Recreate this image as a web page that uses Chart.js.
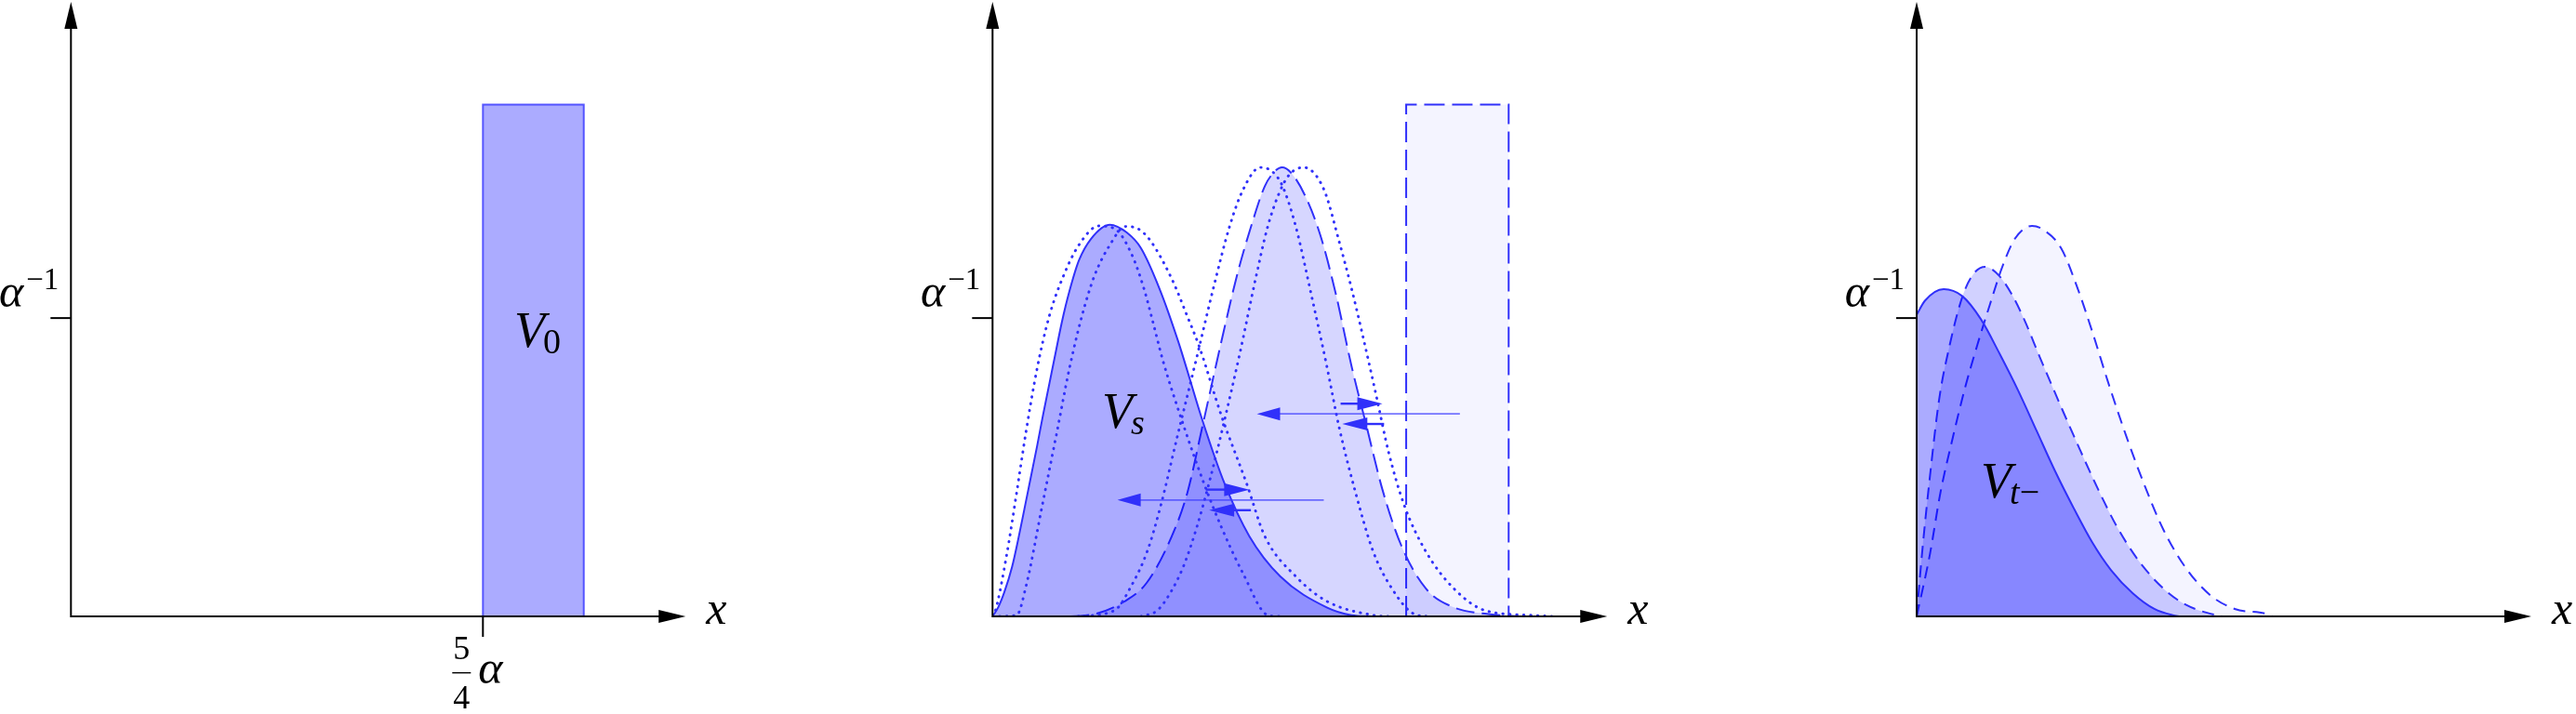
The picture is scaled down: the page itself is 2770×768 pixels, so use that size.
<!DOCTYPE html>
<html>
<head>
  <meta charset="utf-8">
  <title>V0, Vs, Vt-</title>
  <script src="https://cdn.jsdelivr.net/npm/chart.js"></script>
  <style>
    body { margin: 0; background: #fff; }
    #wrap { position: relative; width: 2770px; height: 768px; }
    #wrap canvas { position: absolute; left: 0; top: 0; }
  </style>
</head>
<body>
<div id="wrap">
  <canvas id="left" width="2770" height="768"></canvas>
  <canvas id="middle" width="2770" height="768"></canvas>
  <canvas id="right" width="2770" height="768"></canvas>
</div>
<script>
// x in units of alpha, y in units of 1/alpha
const X_MAX = 1.865;
const Y_MAX = 2.06;
const yTicks = [1];        // alpha^-1
const xTicks = [1.25];     // 5/4 alpha (left panel)

// left panel
const v0Block = [[1.25, 0], [1.25, 1.716], [1.556, 1.716], [1.556, 0]];

// middle panel
const vsCurve = [[0, 0], [0.017, 0.030], [0.036, 0.082], [0.059, 0.165], [0.078, 0.259], [0.097, 0.362],
  [0.116, 0.466], [0.135, 0.570], [0.153, 0.674], [0.172, 0.778], [0.191, 0.882], [0.210, 0.985],
  [0.233, 1.089], [0.262, 1.193], [0.299, 1.266], [0.356, 1.313], [0.407, 1.287], [0.450, 1.235],
  [0.506, 1.100], [0.563, 0.923], [0.638, 0.653], [0.704, 0.445], [0.779, 0.269], [0.873, 0.134],
  [1.014, 0.030], [1.089, 0.004], [1.15, 0]];
const vsDotLeft = [[0, 0], [0.006, 0.009], [0.043, 0.207], [0.073, 0.414], [0.102, 0.622], [0.135, 0.830],
  [0.172, 1.006], [0.215, 1.141], [0.262, 1.245], [0.323, 1.309], [0.374, 1.297], [0.422, 1.214],
  [0.459, 1.100], [0.487, 0.985], [0.516, 0.861], [0.582, 0.632], [0.638, 0.456], [0.694, 0.300],
  [0.760, 0.144], [0.835, 0.004], [0.87, 0]];
const vsDotRight = [[0, 0], [0.073, 0.004], [0.102, 0.103], [0.149, 0.362], [0.196, 0.622], [0.233, 0.830],
  [0.271, 1.006], [0.309, 1.141], [0.356, 1.245], [0.403, 1.307], [0.440, 1.300], [0.478, 1.261],
  [0.544, 1.131], [0.591, 1.006], [0.628, 0.902], [0.694, 0.674], [0.771, 0.445], [0.826, 0.269],
  [0.920, 0.134], [1.014, 0.051], [1.155, 0.004], [1.2, 0]];
const midDashed = [[0, 0], [0.20, 0], [0.30, 0.006], [0.40, 0.05], [0.468, 0.113], [0.544, 0.269],
  [0.591, 0.414], [0.638, 0.643], [0.694, 0.920], [0.741, 1.140], [0.788, 1.320], [0.826, 1.442],
  [0.854, 1.489], [0.878, 1.505], [0.905, 1.488], [0.948, 1.411], [0.995, 1.276], [1.042, 1.079],
  [1.089, 0.840], [1.136, 0.632], [1.183, 0.425], [1.240, 0.238], [1.315, 0.093], [1.400, 0.030],
  [1.494, 0.009], [1.60, 0]];
const midDotLeft = [[0.26, 0], [0.37, 0.02], [0.42, 0.10], [0.47, 0.22], [0.51, 0.37], [0.56, 0.60],
  [0.62, 0.87], [0.67, 1.10], [0.72, 1.31], [0.76, 1.43], [0.812, 1.505], [0.85, 1.49], [0.880, 1.442],
  [0.920, 1.307], [0.967, 1.079], [1.014, 0.840], [1.052, 0.632], [1.099, 0.425], [1.155, 0.217],
  [1.212, 0.093], [1.277, 0.009], [1.32, 0]];
const midDotRight = [[0.45, 0], [0.50, 0.02], [0.54, 0.08], [0.58, 0.17], [0.62, 0.30], [0.66, 0.46],
  [0.70, 0.64], [0.75, 0.88], [0.798, 1.131], [0.835, 1.307], [0.87, 1.42], [0.90, 1.48], [0.944, 1.505],
  [1.005, 1.432], [1.052, 1.255], [1.089, 1.100], [1.127, 0.923], [1.165, 0.736], [1.202, 0.549],
  [1.249, 0.373], [1.315, 0.217], [1.400, 0.093], [1.494, 0.020], [1.635, 0.004], [1.70, 0]];
const midBlock = [[1.255, 0], [1.255, 1.716], [1.566, 1.716], [1.566, 0]];
// arrows: [from x, to x, y]
const longArrows = [[1.418, 0.802, 0.679], [1.005, 0.379, 0.390]];
const shortArrows = [[1.056, 1.183, 0.713], [1.188, 1.061, 0.645], [0.647, 0.779, 0.425], [0.784, 0.657, 0.356]];

// right panel
const tCurve = [[0, 1.011], [0.025, 1.058], [0.082, 1.097], [0.138, 1.074], [0.195, 0.996], [0.251, 0.882],
  [0.308, 0.757], [0.364, 0.622], [0.420, 0.487], [0.477, 0.362], [0.533, 0.248], [0.590, 0.155],
  [0.656, 0.077], [0.721, 0.025], [0.777, 0.004], [0.80, 0]];
const tDashedA = [[0, 0], [0.016, 0.207], [0.040, 0.466], [0.068, 0.726], [0.101, 0.913], [0.138, 1.069],
  [0.171, 1.146], [0.208, 1.172], [0.251, 1.141], [0.289, 1.079], [0.326, 0.996], [0.373, 0.871],
  [0.429, 0.726], [0.495, 0.560], [0.551, 0.425], [0.608, 0.300], [0.674, 0.186], [0.749, 0.093],
  [0.815, 0.040], [0.909, 0.004], [0.93, 0]];
const tDashedB = [[0, 0], [0.040, 0.207], [0.072, 0.414], [0.110, 0.601], [0.147, 0.767], [0.185, 0.913],
  [0.223, 1.048], [0.260, 1.172], [0.298, 1.266], [0.350, 1.309], [0.383, 1.297], [0.438, 1.235],
  [0.485, 1.110], [0.533, 0.954], [0.580, 0.788], [0.637, 0.601], [0.693, 0.435], [0.749, 0.290],
  [0.815, 0.165], [0.890, 0.072], [0.965, 0.025], [1.059, 0.009], [1.08, 0]];

const LINE = 'rgb(48,48,250)';
const SERIF = '"Liberation Serif", serif';
const PX_X = 354.4;

function curve(points, extra) {
  return Object.assign({
    data: points.map(p => ({ x: p[0], y: p[1] })),
    borderColor: LINE,
    borderWidth: 2,
    pointRadius: 0,
    cubicInterpolationMode: 'monotone',
    fill: false
  }, extra);
}
function dotted(points, order) {
  return curve(points, { borderDash: [0.5, 7], borderCapStyle: 'round', borderWidth: 2.9, order: order });
}
function block(points, extra) {
  return curve(points, Object.assign({ tension: 0, cubicInterpolationMode: 'default', fill: 'origin' }, extra));
}

function drawParts(ctx, parts, x, y) {
  let cx = x;
  parts.forEach(p => {
    ctx.font = p.font;
    ctx.fillText(p.text, cx + (p.gap || 0), y + (p.dy || 0));
    cx += ctx.measureText(p.text).width + (p.gap || 0);
  });
  return cx;
}
function partsWidth(ctx, parts) {
  let w = 0;
  parts.forEach(p => { ctx.font = p.font; w += ctx.measureText(p.text).width + (p.gap || 0); });
  return w;
}
function head(ctx, tipX, tipY, dir, len, half, color) {
  ctx.fillStyle = color;
  ctx.beginPath();
  if (dir === 'up') {
    ctx.moveTo(tipX, tipY); ctx.lineTo(tipX - half, tipY + len); ctx.lineTo(tipX + half, tipY + len);
  } else {
    const s = dir === 'right' ? -1 : 1;
    ctx.moveTo(tipX, tipY); ctx.lineTo(tipX + s * len, tipY - half); ctx.lineTo(tipX + s * len, tipY + half);
  }
  ctx.closePath();
  ctx.fill();
}

const axesPlugin = {
  id: 'axes',
  afterDatasetsDraw(chart, args, opts) {
    const ctx = chart.ctx;
    const xs = chart.scales.x, ys = chart.scales.y;
    const x0 = xs.getPixelForValue(0), y0 = ys.getPixelForValue(0);
    const xEnd = xs.getPixelForValue(X_MAX), yEnd = ys.getPixelForValue(Y_MAX);
    ctx.save();
    ctx.textBaseline = 'alphabetic';

    // arrows inside the plot
    (opts.longArrows || []).forEach(a => {
      const p1 = xs.getPixelForValue(a[0]), p2 = xs.getPixelForValue(a[1]), py = ys.getPixelForValue(a[2]);
      const d = p2 > p1 ? 1 : -1;
      ctx.strokeStyle = 'rgba(60,60,255,0.7)'; ctx.lineWidth = 1.6;
      ctx.beginPath(); ctx.moveTo(p1, py); ctx.lineTo(p2 - d * 20, py); ctx.stroke();
      head(ctx, p2, py, d > 0 ? 'right' : 'left', 25, 7, LINE);
    });
    (opts.shortArrows || []).forEach(a => {
      const p1 = xs.getPixelForValue(a[0]), p2 = xs.getPixelForValue(a[1]), py = ys.getPixelForValue(a[2]);
      const d = p2 > p1 ? 1 : -1;
      ctx.strokeStyle = LINE; ctx.lineWidth = 2.4;
      ctx.beginPath(); ctx.moveTo(p1, py); ctx.lineTo(p2 - d * 20, py); ctx.stroke();
      head(ctx, p2, py, d > 0 ? 'right' : 'left', 27, 7, LINE);
    });

    // axes
    ctx.strokeStyle = '#000'; ctx.lineWidth = 2;
    ctx.beginPath();
    ctx.moveTo(x0 - 1, y0); ctx.lineTo(xEnd - 20, y0);
    ctx.moveTo(x0, y0 + 1); ctx.lineTo(x0, yEnd + 20);
    ctx.stroke();
    head(ctx, xEnd, y0, 'right', 29, 7, '#000');
    head(ctx, x0, yEnd, 'up', 29, 7, '#000');

    // y ticks: alpha^-1
    ctx.fillStyle = '#000';
    yTicks.forEach(v => {
      const py = ys.getPixelForValue(v);
      ctx.beginPath(); ctx.moveTo(x0 - 22, py); ctx.lineTo(x0, py); ctx.stroke();
      const parts = [{ text: 'α', font: 'italic 50px ' + SERIF },
                     { text: '−1', font: '33px ' + SERIF, dy: -19, gap: 3 }];
      drawParts(ctx, parts, x0 - 13 - partsWidth(ctx, parts), py - 12);
    });
    // x ticks: 5/4 alpha
    (opts.xTicks || []).forEach(v => {
      const px = xs.getPixelForValue(v);
      ctx.beginPath(); ctx.moveTo(px, y0); ctx.lineTo(px, y0 + 22); ctx.stroke();
      const fx = px - 23;
      ctx.font = '36px ' + SERIF; ctx.textAlign = 'center';
      ctx.fillText('5', fx, y0 + 46);
      ctx.fillText('4', fx, y0 + 99);
      ctx.textAlign = 'left';
      ctx.fillRect(fx - 10, y0 + 60, 20, 1.4);
      ctx.font = 'italic 50px ' + SERIF;
      ctx.fillText('α', px - 5, y0 + 72);
    });
    // axis name
    ctx.font = 'italic 50px ' + SERIF;
    ctx.fillText('x', xEnd + 22, y0 + 8);

    // region labels
    (opts.labels || []).forEach(l => {
      drawParts(ctx, l.parts, xs.getPixelForValue(l.x), ys.getPixelForValue(l.y));
    });
    ctx.restore();
  }
};

function makePanel(id, left, datasets, opts) {
  return new Chart(document.getElementById(id), {
    type: 'line',
    data: { datasets: datasets },
    options: {
      responsive: false,
      devicePixelRatio: 1,
      animation: false,
      events: [],
      layout: { padding: { left: left, right: 2770 - left - X_MAX * PX_X, top: 2, bottom: 105 } },
      scales: {
        x: { type: 'linear', min: 0, max: X_MAX, display: false },
        y: { type: 'linear', min: 0, max: Y_MAX, display: false }
      },
      plugins: { legend: { display: false }, tooltip: { enabled: false }, axes: opts }
    },
    plugins: [axesPlugin]
  });
}

const V = 'italic 54px ' + SERIF;
const SUB = '38px ' + SERIF;
const SUBI = 'italic 38px ' + SERIF;

makePanel('left', 76.3, [
  block(v0Block, { backgroundColor: 'rgba(0,0,255,0.33)', borderColor: 'rgba(40,40,255,0.75)' })
], {
  xTicks: xTicks,
  labels: [{ x: 1.345, y: 0.903, parts: [{ text: 'V', font: V }, { text: '0', font: SUB, dy: 7, gap: -2 }] }]
});

makePanel('middle', 1067.3, [
  block(midBlock, { backgroundColor: 'rgba(0,0,255,0.045)', borderDash: [22, 8], order: 7 }),
  curve(midDashed, { fill: 'origin', backgroundColor: 'rgba(0,0,255,0.16)', borderDash: [20, 8], order: 6 }),
  curve(vsCurve, { fill: 'origin', backgroundColor: 'rgba(0,0,255,0.33)', order: 5 }),
  dotted(vsDotLeft, 4), dotted(vsDotRight, 3), dotted(midDotLeft, 2), dotted(midDotRight, 1)
], {
  longArrows: longArrows,
  shortArrows: shortArrows,
  labels: [{ x: 0.332, y: 0.632, parts: [{ text: 'V', font: V }, { text: 's', font: SUBI, dy: 7, gap: -2 }] }]
});

makePanel('right', 2061, [
  curve(tDashedB, { fill: 'origin', backgroundColor: 'rgba(0,0,255,0.045)', borderDash: [13, 8], order: 3 }),
  curve(tDashedA, { fill: 'origin', backgroundColor: 'rgba(0,0,255,0.18)', borderDash: [13, 8], order: 2 }),
  curve(tCurve, { fill: 'origin', backgroundColor: 'rgba(0,0,255,0.33)', order: 1 })
], {
  labels: [{ x: 0.195, y: 0.399, parts: [{ text: 'V', font: V }, { text: 't', font: SUBI, dy: 7, gap: -2 },
                                          { text: '−', font: SUB, dy: 7 }] }]
});
</script>
</body>
</html>
